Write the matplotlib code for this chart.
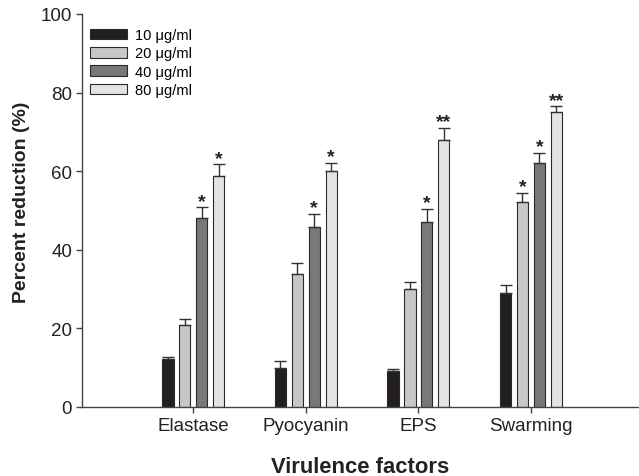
import numpy as np
import matplotlib
matplotlib.use("Agg")
import matplotlib.pyplot as plt

plt.rcParams['font.family'] = ['Liberation Sans', 'DejaVu Sans']

# virulence factors and percent reduction per concentration
factors = ['Elastase', 'Pyocyanin', 'EPS', 'Swarming']
doses = ['10 \u03bcg/ml', '20 \u03bcg/ml', '40 \u03bcg/ml', '80 \u03bcg/ml']

red_10 = [12.3, 9.8, 9.1, 29.0]
red_20 = [20.9, 33.9, 30.0, 52.1]
red_40 = [48.0, 45.9, 47.0, 62.0]
red_80 = [58.9, 60.0, 68.0, 75.0]

err_10 = [0.5, 1.8, 0.5, 2.0]
err_20 = [1.5, 2.7, 1.8, 2.4]
err_40 = [2.8, 3.2, 3.4, 2.6]
err_80 = [2.8, 2.2, 3.0, 1.5]

# significance marks above each bar ('' = none)
sig_10 = ['', '', '', '']
sig_20 = ['', '', '', '*']
sig_40 = ['*', '*', '*', '*']
sig_80 = ['*', '*', '**', '**']

values = [red_10, red_20, red_40, red_80]
errors = [err_10, err_20, err_40, err_80]
marks = [sig_10, sig_20, sig_40, sig_80]
colors = ['#231f20', '#c6c7c8', '#77787b', '#e2e3e4']
offsets = [-0.225, -0.075, 0.075, 0.225]
width = 0.1

fig = plt.figure(figsize=(6.39, 4.77), dpi=100)
ax = fig.add_axes([0.128, 0.1447, 0.872, 0.8239])

x = np.arange(1, len(factors) + 1)
for i in range(4):
    xs = x + offsets[i]
    ax.bar(xs, values[i], width, color=colors[i], edgecolor='#2a2a2a',
           linewidth=0.8, label=doses[i], zorder=2)
    ax.errorbar(xs, values[i], yerr=[np.zeros(4), errors[i]], fmt='none',
                ecolor='#333333', elinewidth=1.0, capsize=4.3, capthick=1.0,
                zorder=3)
    for xi, v, e, m in zip(xs, values[i], errors[i], marks[i]):
        if m:
            ax.text(xi, v + e - 0.6, m, ha='center', va='bottom',
                    fontsize=14, fontweight='bold', color='#222222')

ax.set_xlim(0.01, 4.96)
ax.set_ylim(0, 100)
ax.set_xticks(x)
ax.set_xticklabels(factors)
ax.set_yticks([0, 20, 40, 60, 80, 100])

for s in ['top', 'right']:
    ax.spines[s].set_visible(False)
for s in ['left', 'bottom']:
    ax.spines[s].set_color('#444444')
    ax.spines[s].set_linewidth(1.0)
ax.tick_params(direction='out', length=4, width=1, color='#444444',
               labelsize=13.5, labelcolor='#222222', pad=3)

ax.set_xlabel('Virulence factors', fontsize=15.8, fontweight='bold',
              color='#222222')
ax.set_ylabel('Percent reduction (%)', fontsize=14, fontweight='bold',
              color='#222222')
ax.xaxis.set_label_coords(0.5, -0.125)
ax.yaxis.set_label_coords(-0.093, 0.524)

ax.legend(loc='upper left', bbox_to_anchor=(-0.003, 0.99), frameon=False,
          fontsize=10.5, handlelength=2.5, handleheight=0.75,
          handletextpad=0.55, labelspacing=0.3, borderaxespad=0.3)

fig.savefig('out.png', dpi=100)
